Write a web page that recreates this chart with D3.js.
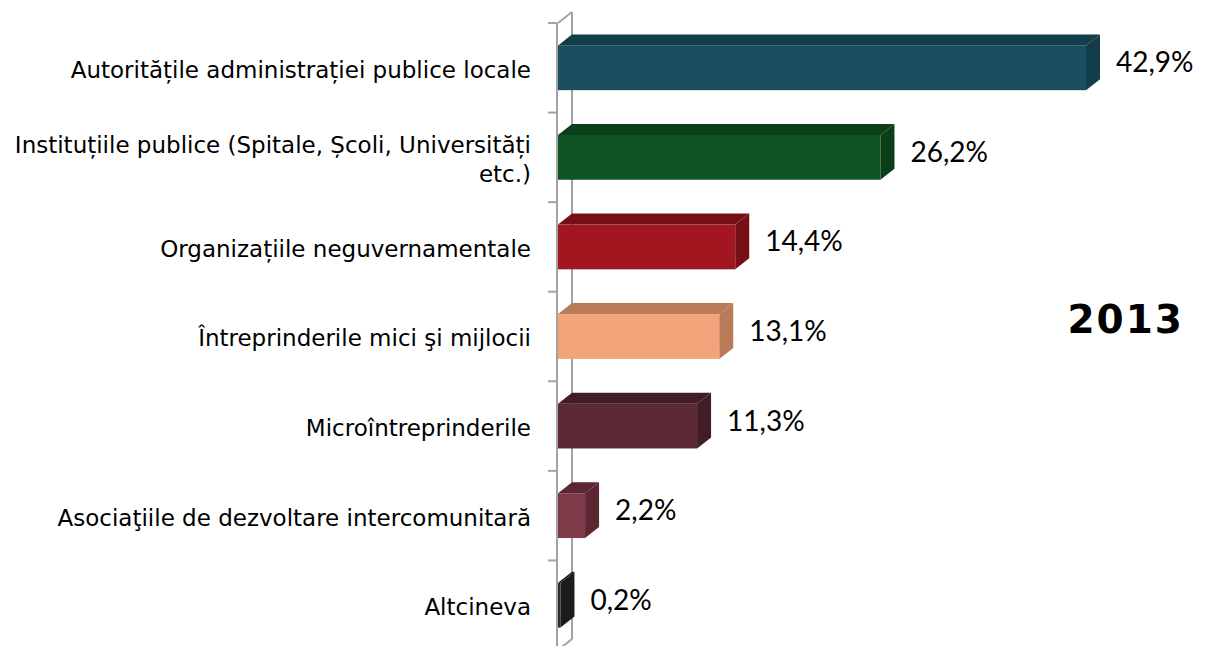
<!DOCTYPE html>
<html>
    <head>
        <meta charset="utf-8">
        <title>2013</title>
        <script src="https://d3js.org/d3.v7.min.js"></script>
        <style>
            html, body {
                margin: 0;
                padding: 0;
                background: #fff;
            }
            svg {
                display: block;
            }
        </style>
    </head>
    <body>
        <div id="chart"></div>

        <script>
        // data
        var categories = [
            ['Autoritățile administrației publice locale'],
            ['Instituțiile publice (Spitale, Școli, Universități', 'etc.)'],
            ['Organizațiile neguvernamentale'],
            ['Întreprinderile mici şi mijlocii'],
            ['Microîntreprinderile'],
            ['Asociaţiile de dezvoltare intercomunitară'],
            ['Altcineva']
        ];
        var values = [42.9, 26.2, 14.4, 13.1, 11.3, 2.2, 0.2];
        var valueLabels = ['42,9%', '26,2%', '14,4%', '13,1%', '11,3%', '2,2%', '0,2%'];
        var frontColors = ['#1b4f5f', '#0e5424', '#a2161f', '#f2a47a', '#5c2a36', '#7d3a49', '#2b2b2b'];
        var sideColors = ['#133d48', '#0a3f18', '#771016', '#b97b58', '#421d26', '#5a2733', '#1c1c1c'];
        var yearLabel = '2013';

        var width = 1205, height = 646;
        var dx = 14, dy = 11;   // depth of the 3d effect

        var svg = d3.select('#chart').append('svg')
            .attr('width', width)
            .attr('height', height);

        var x = d3.scaleLinear()
            .domain([0, 42.9])
            .range([558, 1086]);

        var y = d3.scaleBand()
            .domain(d3.range(categories.length))
            .range([23, 650])
            .paddingInner(0.5)
            .paddingOuter(0.25);

        var step = y.step();
        var top0 = 23, bottom0 = 650;

        // back wall line + connectors
        var axisColor = '#a3a3a3';
        svg.append('line')
            .attr('x1', x(0) + dx).attr('x2', x(0) + dx)
            .attr('y1', top0 - dy).attr('y2', bottom0 - dy)
            .attr('stroke', axisColor).attr('stroke-width', 2);
        svg.append('line')
            .attr('x1', x(0)).attr('x2', x(0) + dx)
            .attr('y1', top0).attr('y2', top0 - dy)
            .attr('stroke', axisColor).attr('stroke-width', 2);
        svg.append('line')
            .attr('x1', x(0)).attr('x2', x(0) + dx)
            .attr('y1', bottom0).attr('y2', bottom0 - dy)
            .attr('stroke', axisColor).attr('stroke-width', 2);

        // front axis line with ticks between categories
        svg.append('line')
            .attr('x1', x(0) - 1).attr('x2', x(0) - 1)
            .attr('y1', top0).attr('y2', bottom0)
            .attr('stroke', axisColor).attr('stroke-width', 2);
        svg.selectAll('.tick')
            .data(d3.range(categories.length + 1))
            .enter()
            .append('line')
            .attr('class', 'tick')
            .attr('x1', x(0) - 10).attr('x2', x(0) - 1)
            .attr('y1', function (d) { return top0 + d * step; })
            .attr('y2', function (d) { return top0 + d * step; })
            .attr('stroke', axisColor).attr('stroke-width', 2);

        var bars = svg.selectAll('.bar')
            .data(values)
            .enter()
            .append('g')
            .attr('class', 'bar');

        // top face
        bars.append('path')
            .attr('d', function (d, i) {
                var x0 = x(0), x1 = x(d), yt = y(i);
                return 'M' + x0 + ',' + yt + 'L' + (x0 + dx) + ',' + (yt - dy) +
                    'L' + (x1 + dx) + ',' + (yt - dy) + 'L' + x1 + ',' + yt + 'Z';
            })
            .attr('fill', function (d, i) { return sideColors[i]; });

        // right side face
        bars.append('path')
            .attr('d', function (d, i) {
                var x1 = x(d), yt = y(i), h = y.bandwidth();
                return 'M' + x1 + ',' + yt + 'L' + (x1 + dx) + ',' + (yt - dy) +
                    'L' + (x1 + dx) + ',' + (yt + h - dy) + 'L' + x1 + ',' + (yt + h) + 'Z';
            })
            .attr('fill', function (d, i) { return sideColors[i]; });

        // front face
        bars.append('rect')
            .attr('x', x(0))
            .attr('y', function (d, i) { return y(i); })
            .attr('width', function (d) { return x(d) - x(0); })
            .attr('height', y.bandwidth())
            .attr('fill', function (d, i) { return frontColors[i]; });

        // value labels
        bars.append('text')
            .attr('x', function (d) { return x(d) + dx + 16; })
            .attr('y', function (d, i) { return y(i) + (y.bandwidth() - dy) / 2 + 10; })
            .attr('font-family', 'Lato, "Open Sans", sans-serif')
            .attr('font-size', 28)
            .attr('fill', '#000')
            .text(function (d, i) { return valueLabels[i]; });

        // category labels
        var fs = 23, lh = 29;
        var cats = svg.selectAll('.cat')
            .data(categories)
            .enter()
            .append('text')
            .attr('class', 'cat')
            .attr('text-anchor', 'end')
            .attr('font-family', '"DejaVu Sans", sans-serif')
            .attr('font-size', fs)
            .attr('fill', '#000');

        cats.each(function (lines, i) {
            var cy = y(i) + y.bandwidth() / 2;
            var t = d3.select(this);
            lines.forEach(function (line, k) {
                t.append('tspan')
                    .attr('x', 531)
                    .attr('y', cy + 0.43 * fs + (k - (lines.length - 1) / 2) * lh)
                    .text(line);
            });
        });

        // year label
        svg.append('text')
            .attr('x', 1184)
            .attr('y', 333)
            .attr('text-anchor', 'end')
            .attr('font-family', '"DejaVu Sans", sans-serif')
            .attr('font-weight', 'bold')
            .attr('font-size', 39)
            .attr('letter-spacing', 2)
            .attr('fill', '#000')
            .text(yearLabel);
        </script>
    </body>
</html>
